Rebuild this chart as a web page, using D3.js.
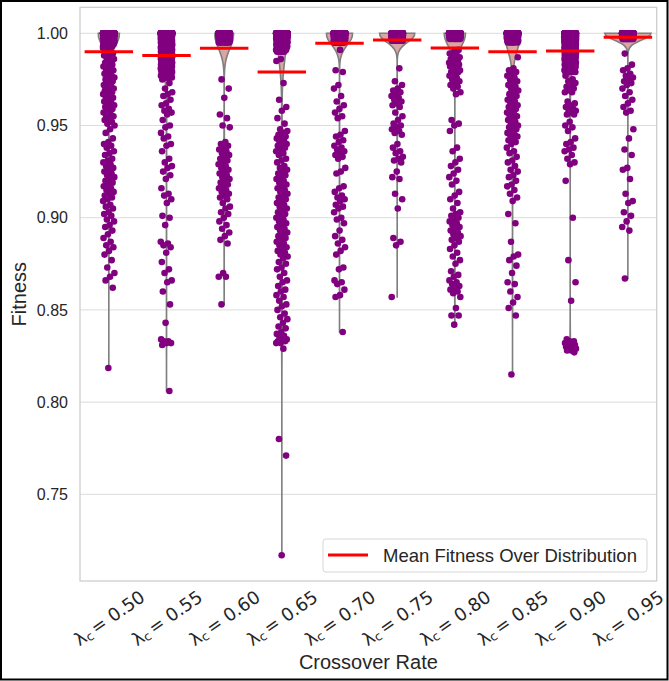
<!DOCTYPE html>
<html><head><meta charset="utf-8">
<script src="https://cdn.jsdelivr.net/npm/d3@7"></script>
<style>body{margin:0;background:#fff}svg{display:block}text{font-family:"Liberation Sans",Arial,sans-serif}</style>
</head><body><svg id="chart" width="669" height="681"></svg>
<script>
const categories = ["0.50","0.55","0.60","0.65","0.70","0.75","0.80","0.85","0.90","0.95"];
const meanFitness = [0.9900,0.9879,0.9919,0.9790,0.9946,0.9964,0.9920,0.9900,0.9904,0.9978];
const yTicks = [0.75,0.80,0.85,0.90,0.95,1.00];

const low50 = [0.992,0.991,0.990,0.989,0.988,0.988,0.987,0.986,0.986,0.985,0.984,0.983,0.983,0.982,0.981,0.980,0.980,0.979,0.978,0.977,0.977,0.976,0.975,0.975,0.974,0.973,0.972,0.972,0.971,0.970,0.970,0.969,0.968,0.967,0.967,0.966,0.965,0.965,0.964,0.963,0.962,0.962,0.961,0.960,0.960,0.959,0.958,0.957,0.956,0.955,0.955,0.954,0.953,0.952,0.951,0.950,0.948,0.946,0.943,0.941,0.940,0.939,0.938,0.936,0.935,0.934,0.932,0.931,0.930,0.929,0.928,0.927,0.926,0.925,0.924,0.923,0.922,0.921,0.920,0.919,0.918,0.917,0.916,0.915,0.914,0.913,0.912,0.911,0.910,0.909,0.907,0.906,0.905,0.903,0.902,0.901,0.899,0.898,0.896,0.895,0.893,0.891,0.889,0.887,0.885,0.884,0.882,0.880,0.877,0.873,0.870,0.868,0.866,0.862,0.8185];
const top50 = [[1.000,600],[0.999,40],[0.998,30],[0.997,20],[0.996,15],[0.995,12],[0.994,8],[0.993,5]];

const low55 = [0.975,0.973,0.970,0.968,0.967,0.966,0.964,0.962,0.961,0.959,0.958,0.957,0.956,0.953,0.950,0.949,0.946,0.944,0.943,0.940,0.939,0.936,0.932,0.930,0.928,0.927,0.925,0.923,0.921,0.916,0.913,0.912,0.910,0.908,0.901,0.900,0.896,0.887,0.886,0.885,0.884,0.881,0.876,0.872,0.870,0.866,0.865,0.860,0.853,0.843,0.834,0.833,0.833,0.832,0.832,0.831,0.806];
const top55 = [[1.000,300],[0.999,25],[0.998,25],[0.997,20],[0.996,20],[0.995,18],[0.994,16],[0.993,16],[0.992,16],[0.991,15],[0.990,15],[0.989,14],[0.988,14],[0.987,13],[0.986,13],[0.985,12],[0.984,12],[0.983,11],[0.982,11],[0.981,10],[0.980,10],[0.979,9],[0.978,8],[0.977,8],[0.976,6]];

const low60 = [0.975,0.970,0.965,0.956,0.954,0.950,0.949,0.941,0.940,0.939,0.938,0.937,0.936,0.935,0.934,0.933,0.932,0.931,0.930,0.929,0.928,0.927,0.926,0.925,0.924,0.923,0.922,0.921,0.920,0.919,0.918,0.917,0.916,0.915,0.914,0.913,0.912,0.911,0.910,0.908,0.906,0.905,0.903,0.902,0.900,0.898,0.896,0.894,0.892,0.890,0.888,0.886,0.870,0.868,0.868,0.853];
const top60 = [[1.000,340],[0.999,40],[0.998,30],[0.997,25],[0.996,20],[0.995,10]];

const low65 = [0.986,0.985,0.973,0.964,0.960,0.958,0.954,0.951,0.948,0.947,0.946,0.945,0.944,0.944,0.943,0.942,0.941,0.940,0.940,0.939,0.938,0.937,0.936,0.935,0.934,0.932,0.931,0.930,0.928,0.927,0.926,0.925,0.924,0.923,0.922,0.921,0.920,0.919,0.918,0.917,0.916,0.915,0.914,0.913,0.912,0.911,0.910,0.909,0.908,0.907,0.906,0.905,0.904,0.903,0.902,0.901,0.900,0.899,0.898,0.897,0.896,0.895,0.894,0.893,0.892,0.891,0.890,0.889,0.888,0.887,0.886,0.885,0.884,0.883,0.882,0.881,0.880,0.879,0.878,0.876,0.875,0.873,0.872,0.870,0.868,0.866,0.865,0.863,0.861,0.860,0.858,0.857,0.855,0.853,0.852,0.850,0.848,0.846,0.845,0.843,0.841,0.840,0.838,0.837,0.836,0.835,0.834,0.834,0.833,0.833,0.832,0.832,0.829,0.780,0.771,0.717];
const top65 = [[1.000,300],[0.999,30],[0.998,25],[0.997,20],[0.996,15],[0.995,12],[0.994,10],[0.993,8],[0.992,6],[0.991,5],[0.990,4]];

const low70 = [0.991,0.980,0.979,0.972,0.970,0.966,0.963,0.961,0.959,0.957,0.955,0.954,0.947,0.945,0.944,0.942,0.941,0.939,0.938,0.937,0.936,0.935,0.934,0.933,0.932,0.927,0.925,0.924,0.917,0.916,0.914,0.912,0.911,0.910,0.909,0.907,0.906,0.905,0.903,0.900,0.899,0.897,0.893,0.890,0.888,0.886,0.884,0.882,0.880,0.873,0.872,0.866,0.865,0.864,0.861,0.858,0.857,0.838];
const top70 = [[1.000,650],[0.999,70],[0.998,50],[0.997,40],[0.996,25],[0.995,15]];

const low75 = [0.981,0.974,0.972,0.970,0.969,0.968,0.967,0.966,0.965,0.964,0.963,0.962,0.961,0.960,0.957,0.955,0.953,0.951,0.950,0.949,0.948,0.947,0.946,0.945,0.940,0.938,0.936,0.935,0.933,0.932,0.931,0.930,0.925,0.922,0.921,0.913,0.910,0.905,0.889,0.887,0.885,0.857];
const top75 = [[1.000,500],[0.999,60],[0.998,50],[0.997,30],[0.996,20]];

const low80 = [0.991,0.990,0.989,0.988,0.988,0.987,0.986,0.986,0.985,0.985,0.984,0.984,0.983,0.983,0.982,0.982,0.981,0.981,0.980,0.980,0.979,0.979,0.978,0.977,0.976,0.975,0.974,0.973,0.972,0.971,0.970,0.968,0.967,0.953,0.951,0.950,0.947,0.938,0.936,0.932,0.930,0.928,0.926,0.924,0.922,0.920,0.918,0.914,0.912,0.910,0.908,0.905,0.903,0.902,0.901,0.900,0.899,0.898,0.897,0.896,0.895,0.894,0.893,0.892,0.891,0.890,0.889,0.888,0.887,0.885,0.883,0.881,0.879,0.877,0.875,0.871,0.869,0.868,0.866,0.865,0.864,0.863,0.862,0.861,0.860,0.859,0.857,0.851,0.847,0.847,0.842];
const top80 = [[1.000,760],[0.999,40],[0.998,25],[0.997,15]];

const low85 = [0.987,0.981,0.980,0.979,0.978,0.977,0.976,0.975,0.974,0.973,0.972,0.971,0.970,0.969,0.968,0.967,0.966,0.965,0.964,0.963,0.962,0.961,0.960,0.960,0.959,0.958,0.957,0.956,0.955,0.955,0.954,0.953,0.952,0.951,0.950,0.950,0.949,0.948,0.947,0.946,0.945,0.945,0.944,0.943,0.942,0.941,0.940,0.938,0.936,0.935,0.933,0.931,0.930,0.928,0.926,0.925,0.923,0.922,0.920,0.918,0.917,0.915,0.913,0.911,0.909,0.902,0.897,0.887,0.880,0.879,0.877,0.874,0.870,0.865,0.864,0.860,0.857,0.854,0.851,0.847,0.815];
const top85 = [[1.000,300],[0.999,40],[0.998,30],[0.997,20],[0.996,12],[0.995,6]];

const low90 = [0.977,0.975,0.974,0.973,0.972,0.971,0.970,0.969,0.968,0.968,0.963,0.962,0.961,0.960,0.959,0.958,0.958,0.957,0.956,0.956,0.952,0.950,0.949,0.947,0.943,0.941,0.940,0.938,0.937,0.936,0.934,0.932,0.930,0.929,0.920,0.900,0.877,0.865,0.855,0.834,0.833,0.833,0.832,0.832,0.831,0.831,0.830,0.830,0.830,0.829,0.829,0.828,0.828,0.827];
const top90 = [[1.000,350],[0.999,40],[0.998,35],[0.997,30],[0.996,25],[0.995,22],[0.994,20],[0.993,20],[0.992,18],[0.991,17],[0.990,16],[0.989,15],[0.988,14],[0.987,13],[0.986,12],[0.985,11],[0.984,10],[0.983,9],[0.982,8],[0.981,8],[0.980,7],[0.979,6]];

const low95 = [0.989,0.983,0.981,0.980,0.978,0.977,0.976,0.975,0.974,0.973,0.972,0.970,0.968,0.966,0.964,0.962,0.960,0.958,0.957,0.948,0.943,0.937,0.934,0.927,0.926,0.921,0.913,0.909,0.908,0.903,0.901,0.898,0.895,0.893,0.867];
const top95 = [[1.000,700],[0.999,70],[0.998,40],[0.997,25]];

const lowPoints = [low50,low55,low60,low65,low70,low75,low80,low85,low90,low95];
const topClusters = [top50,top55,top60,top65,top70,top75,top80,top85,top90,top95];

// ---------- layout ----------
const W = 669, H = 681;
const plot = {left: 80, right: 656.7, top: 7.3, bottom: 581};
const svg = d3.select("#chart");

const x = d3.scaleBand().domain(categories).range([plot.left, plot.right]).paddingInner(0).paddingOuter(0);
const y = d3.scaleLinear().domain([0.7030, 1.0141]).range([plot.bottom, plot.top]);
const bw = x.bandwidth();

const datasets = categories.map((c, i) => {
  const vals = lowPoints[i].slice();
  topClusters[i].forEach(([v, n]) => { for (let k = 0; k < n; k++) vals.push(v); });
  return vals;
});

// KDE (gaussian, Scott's rule, cut = 0, gridsize 100)
function kde(vals) {
  const n = vals.length;
  const mean = d3.mean(vals);
  const sd = Math.sqrt(d3.sum(vals, v => (v - mean) ** 2) / (n - 1));
  const h = sd * Math.pow(n, -0.2);
  const lo = d3.min(vals), hi = d3.max(vals);
  const grid = d3.range(100).map(k => lo + (hi - lo) * k / 99);
  const norm = 1 / (n * h * Math.sqrt(2 * Math.PI));
  return grid.map(g => {
    let s = 0;
    for (const v of vals) { const z = (g - v) / h; s += Math.exp(-0.5 * z * z); }
    return {v: g, d: s * norm};
  });
}
const dens = datasets.map(kde);
const gmax = d3.max(dens, ds => d3.max(ds, d => d.d));
const halfW = 0.4 * bw;

svg.append("rect").attr("width", W).attr("height", H).attr("fill", "#fff");

// grid
svg.append("g").selectAll("line").data(yTicks).join("line")
  .attr("x1", plot.left).attr("x2", plot.right)
  .attr("y1", d => y(d)).attr("y2", d => y(d))
  .attr("stroke", "#dcdcdc").attr("stroke-width", 1);

// violins
const area = d3.area().y(d => y(d.v));
categories.forEach((c, i) => {
  const cx = x(c) + bw / 2;
  area.x0(d => cx - d.d / gmax * halfW).x1(d => cx + d.d / gmax * halfW);
  svg.append("path").datum(dens[i]).attr("d", area)
    .attr("fill", "#d9a6a3").attr("stroke", "#7f7f7f").attr("stroke-width", 1.6);
});

// points (strip with deterministic jitter)
const gp = svg.append("g");
categories.forEach((c, i) => {
  const cx = x(c) + bw / 2;
  const jit = 0.1 * bw;
  gp.append("g").selectAll("circle").data(datasets[i]).join("circle")
    .attr("cx", (d, j) => cx + (((j * 0.6180339887 + i * 0.137) % 1) - 0.5) * 2 * jit)
    .attr("cy", d => y(d))
    .attr("r", 3.3)
    .attr("fill", "#800080");
});

// mean lines
svg.append("g").selectAll("line").data(categories).join("line")
  .attr("x1", c => x(c) + bw / 2 - 0.42 * bw)
  .attr("x2", c => x(c) + bw / 2 + 0.42 * bw)
  .attr("y1", (c, i) => y(meanFitness[i])).attr("y2", (c, i) => y(meanFitness[i]))
  .attr("stroke", "#ff0000").attr("stroke-width", 3);

// spines
svg.append("rect").attr("x", plot.left).attr("y", plot.top)
  .attr("width", plot.right - plot.left).attr("height", plot.bottom - plot.top)
  .attr("fill", "none").attr("stroke", "#cccccc").attr("stroke-width", 1.25);

// y axis labels
svg.append("g").selectAll("text").data(yTicks).join("text")
  .attr("x", 68).attr("y", d => y(d)).attr("dy", "0.35em")
  .attr("text-anchor", "end").attr("font-size", 16).attr("fill", "#262626")
  .text(d => d.toFixed(2));

// x tick labels rotated, centred bbox
const ang = 35 * Math.PI / 180;
const gx = svg.append("g");
categories.forEach((c, i) => {
  const t = gx.append("text").attr("font-size", 18).attr("fill", "#262626")
    .style("font-family", "'DejaVu Sans', sans-serif")
    .attr("text-anchor", "middle").attr("dominant-baseline", "central");
  t.append("tspan").text("λ");
  t.append("tspan").attr("font-size", 12.5).attr("dy", 4).text("c");
  t.append("tspan").attr("dy", -4).attr("dx", 3).text("= " + c);
  const w = t.node().getComputedTextLength() + 3;
  const hh = 15;
  const rh = w * Math.sin(ang) + hh * Math.cos(ang);
  const cx = x(c) + bw / 2;
  t.attr("transform", `translate(${cx},${plot.bottom + 7 + rh / 2}) rotate(-35)`);
});

// axis titles
svg.append("text").attr("x", (plot.left + plot.right) / 2).attr("y", 669)
  .attr("text-anchor", "middle").attr("font-size", 20).attr("fill", "#262626").text("Crossover Rate");
svg.append("text").attr("transform", `translate(26,${(plot.top + plot.bottom) / 2}) rotate(-90)`)
  .attr("text-anchor", "middle").attr("font-size", 20).attr("fill", "#262626").text("Fitness");

// legend
const lg = svg.append("g");
lg.append("rect").attr("x", 323).attr("y", 539).attr("width", 324).attr("height", 33).attr("rx", 3)
  .attr("fill", "#fff").attr("fill-opacity", 0.8).attr("stroke", "#d6d6d6").attr("stroke-width", 1);
lg.append("line").attr("x1", 328).attr("x2", 368).attr("y1", 555).attr("y2", 555)
  .attr("stroke", "#ff0000").attr("stroke-width", 3);
lg.append("text").attr("x", 383).attr("y", 555.5).attr("dy", "0.35em").attr("font-size", 18.5)
  .attr("fill", "#262626").text("Mean Fitness Over Distribution");

// outer frame
svg.append("rect").attr("x", 1).attr("y", 1).attr("width", W - 2.5).attr("height", H - 2.5)
  .attr("fill", "none").attr("stroke", "#000").attr("stroke-width", 2);
</script></body></html>
